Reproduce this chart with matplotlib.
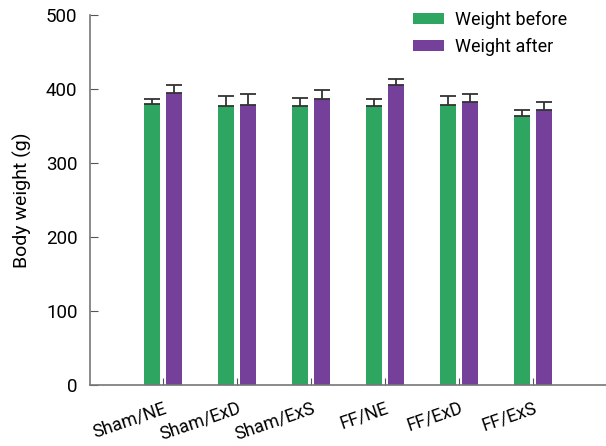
import numpy as np
import matplotlib.pyplot as plt

plt.rcParams['font.family'] = ['DejaVu Sans Condensed', 'Liberation Sans Narrow', 'Roboto', 'DejaVu Sans']

groups = ['Sham/NE', 'Sham/ExD', 'Sham/ExS', 'FF/NE', 'FF/ExD', 'FF/ExS']
before = [380, 377, 377, 377, 378, 364]
before_sd = [6, 13, 11, 10, 12, 8]
after = [395, 378, 387, 405, 382, 372]
after_sd = [10, 15, 11, 8, 11, 10]

green = '#2FA562'
purple = '#75409A'

fig = plt.figure(figsize=(6.06, 4.46), dpi=100)
ax = fig.add_axes([0.1485, 0.1368, 0.8515, 0.8296])

x = np.arange(len(groups))
w = 0.216
err_kw = dict(ecolor='#333333', elinewidth=1.3, capsize=5.5, capthick=1.3)
ax.bar(x - 0.149, before, w, color=green, label='Weight before',
       yerr=[np.zeros(len(groups)), before_sd], error_kw=err_kw)
ax.bar(x + 0.149, after, w, color=purple, label='Weight after',
       yerr=[np.zeros(len(groups)), after_sd], error_kw=err_kw)

ax.set_xlim(-0.99, 5.99)
ax.set_ylim(0, 500)
ax.set_yticks([0, 100, 200, 300, 400, 500])
ax.set_xticks(x)
ax.set_xticklabels(groups, rotation=19, ha='right', rotation_mode='anchor', fontsize=13)
ax.tick_params(axis='y', labelsize=13.5, direction='in', length=6, color='#555555', pad=9)
ax.tick_params(axis='x', direction='in', length=5, color='#555555', pad=10)
ax.set_ylabel('Body weight (g)', fontsize=14, labelpad=10)

for s in ['top', 'right']:
    ax.spines[s].set_visible(False)
for s in ['left', 'bottom']:
    ax.spines[s].set_color('#777777')
    ax.spines[s].set_linewidth(1.2)

ax.legend(loc='upper left', bbox_to_anchor=(0.595, 1.055), frameon=False,
          fontsize=13, handlelength=1.7, handleheight=0.6, labelspacing=0.5,
          handletextpad=0.6)

fig.savefig('out.png', dpi=100)
